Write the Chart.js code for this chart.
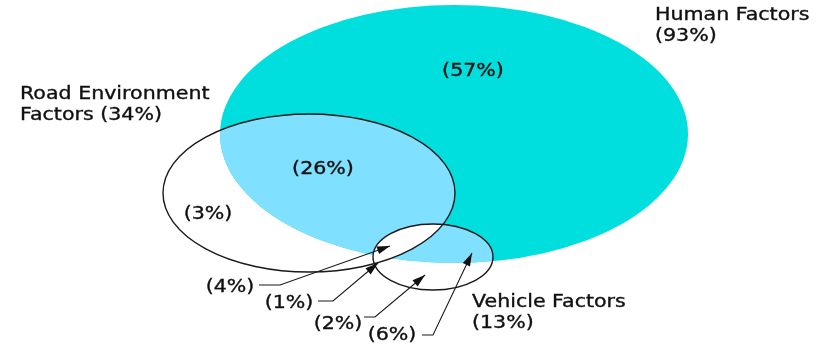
<!DOCTYPE html>
<html>
<head>
<meta charset="utf-8">
<script src="https://cdn.jsdelivr.net/npm/chart.js@4/dist/chart.umd.min.js"></script>
<style>
  html, body { margin: 0; padding: 0; background: #ffffff; }
  #wrap { width: 827px; height: 347px; position: relative; }
</style>
</head>
<body>
<div id="wrap"><canvas id="c" width="827" height="347"></canvas></div>
<script>
// ---- Data ----
const setNames = ['Human Factors', 'Road Environment Factors', 'Vehicle Factors'];
const setPercents = [93, 34, 13];
const regionNames = ['Human only', 'Human ∩ Road', 'Road only', 'Human ∩ Road ∩ Vehicle', 'Road ∩ Vehicle', 'Vehicle only', 'Human ∩ Vehicle'];
const regionPercents = [57, 26, 3, 4, 1, 2, 6];

// ---- Layout (diagram geometry in chart units) ----
const ellipseCX = [454, 309, 433];
const ellipseCY = [134, 193, 257];
const ellipseRX = [234, 146, 60];
const ellipseRY = [129, 79, 33];

const setLabelX = [655, 20, 472];
const setLabelY = [20, 98.5, 307];
const setLabelLines = [['Human Factors', '(93%)'], ['Road Environment', 'Factors (34%)'], ['Vehicle Factors', '(13%)']];

// inline region labels (regions 0..2)
const inlineX = [473, 323, 208];
const inlineY = [72, 170, 215];

// callout labels (regions 3..6): text centre, elbow start/end, arrow tip
const calloutTextX = [230, 289, 338, 392];
const calloutTextY = [288, 304, 325, 336];
const elbowX0 = [259, 318, 364, 422];
const elbowX1 = [280, 333, 375, 433];
const elbowY = [285, 301, 317, 335];
const tipX = [390, 378, 425, 472];
const tipY = [246, 263, 275, 253];

const FONT = '17px "DejaVu Sans", Verdana, sans-serif';
const STRETCH = 1.21;
const LINE_GAP = 21;
const CYAN = '#00dede';
const LIGHT = '#80e0ff';

const vennPlugin = {
  id: 'venn',
  beforeDatasetsDraw(chart) {
    const ctx = chart.ctx;
    const xs = chart.scales.x, ys = chart.scales.y;
    const px = v => xs.getPixelForValue(v);
    const py = v => ys.getPixelForValue(v);
    const ell = (i) => {
      const cx = px(ellipseCX[i]), cy = py(ellipseCY[i]);
      const rx = Math.abs(px(ellipseCX[i] + ellipseRX[i]) - cx);
      const ry = Math.abs(py(ellipseCY[i] + ellipseRY[i]) - cy);
      ctx.beginPath();
      ctx.ellipse(cx, cy, rx, ry, 0, 0, Math.PI * 2);
    };
    const text = (t, x, y, align, base) => {
      ctx.save();
      ctx.translate(x, y);
      ctx.scale(STRETCH, 1);
      ctx.textAlign = align;
      ctx.textBaseline = base;
      ctx.fillStyle = '#111111';
      ctx.strokeStyle = '#111111';
      ctx.lineWidth = 0.35;
      ctx.fillText(t, 0, 0);
      ctx.strokeText(t, 0, 0);
      ctx.restore();
    };
    ctx.save();
    // Human set
    ell(0); ctx.fillStyle = CYAN; ctx.fill();
    // Human ∩ Road
    ctx.save(); ell(0); ctx.clip(); ell(1); ctx.fillStyle = LIGHT; ctx.fill(); ctx.restore();
    // Human ∩ Vehicle
    ctx.save(); ell(0); ctx.clip(); ell(2); ctx.fillStyle = LIGHT; ctx.fill(); ctx.restore();
    // Road ∩ Vehicle shown white
    ctx.save(); ell(1); ctx.clip(); ell(2); ctx.fillStyle = '#ffffff'; ctx.fill(); ctx.restore();
    // outlines
    ctx.strokeStyle = '#1a1a1a';
    ctx.lineWidth = 1.4;
    ell(1); ctx.stroke();
    ell(2); ctx.stroke();

    // text
    ctx.font = FONT;
    for (let i = 0; i < setNames.length; i++) {
      setLabelLines[i].forEach((t, k) => {
        text(t, px(setLabelX[i]), py(setLabelY[i]) + k * LINE_GAP, 'left', 'alphabetic');
      });
    }
    for (let i = 0; i < 3; i++) {
      text('(' + regionPercents[i] + '%)', px(inlineX[i]), py(inlineY[i]), 'center', 'middle');
    }
    for (let j = 0; j < 4; j++) {
      text('(' + regionPercents[j + 3] + '%)', px(calloutTextX[j]), py(calloutTextY[j]), 'center', 'middle');
      // leader
      const x0 = px(elbowX0[j]), x1 = px(elbowX1[j]), y = py(elbowY[j]);
      const tx = px(tipX[j]), ty = py(tipY[j]);
      ctx.strokeStyle = '#1a1a1a';
      ctx.lineWidth = 1.1;
      ctx.beginPath();
      ctx.moveTo(x0, y); ctx.lineTo(x1, y); ctx.lineTo(tx, ty);
      ctx.stroke();
      // arrowhead
      const ang = Math.atan2(ty - y, tx - x1);
      const L = 13, W = 4;
      ctx.beginPath();
      ctx.moveTo(tx, ty);
      ctx.lineTo(tx - L * Math.cos(ang) + W * Math.sin(ang), ty - L * Math.sin(ang) - W * Math.cos(ang));
      ctx.lineTo(tx - L * Math.cos(ang) - W * Math.sin(ang), ty - L * Math.sin(ang) + W * Math.cos(ang));
      ctx.closePath();
      ctx.fillStyle = '#111111';
      ctx.fill();
    }
    ctx.restore();
  }
};

new Chart(document.getElementById('c'), {
  type: 'scatter',
  data: {
    datasets: [{
      label: 'Sets',
      data: ellipseCX.map((x, i) => ({ x: x, y: ellipseCY[i] })),
      pointRadius: 0,
      pointHoverRadius: 0
    }]
  },
  options: {
    responsive: false,
    animation: false,
    layout: { padding: 0 },
    plugins: { legend: { display: false }, tooltip: { enabled: false } },
    scales: {
      x: { type: 'linear', min: 0, max: 827, display: false },
      y: { type: 'linear', min: 0, max: 347, reverse: true, display: false }
    }
  },
  plugins: [vennPlugin]
});
</script>
</body>
</html>
